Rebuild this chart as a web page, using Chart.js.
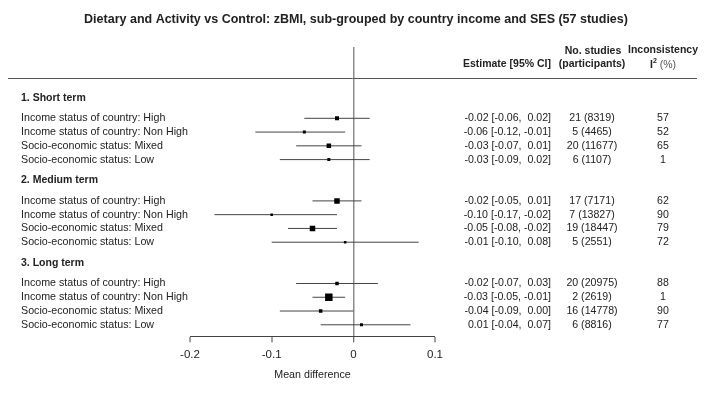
<!DOCTYPE html>
<html lang="en">
<head>
<meta charset="UTF-8">
<title>zBMI forest plot</title>
<script src="https://cdn.jsdelivr.net/npm/chart.js"></script>
<style>
  html, body { margin: 0; padding: 0; background: #fff; }
  #wrap { width: 712px; height: 399px; }
</style>
</head>
<body>
<div id="wrap"><canvas id="forest" width="712" height="399"></canvas></div>
<script>
// ---- data ----
const titleText = 'Dietary and Activity vs Control: zBMI, sub-grouped by country income and SES (57 studies)';
const groups = ['1. Short term', '2. Medium term', '3. Long term'];
const subgroups = [
  'Income status of country: High',
  'Income status of country: Non High',
  'Socio-economic status: Mixed',
  'Socio-economic status: Low'
];
// one entry per row, groups in order (4 rows each)
const estimate = [-0.02, -0.06, -0.03, -0.03, -0.02, -0.10, -0.05, -0.01, -0.02, -0.03, -0.04, 0.01];
const lower    = [-0.06, -0.12, -0.07, -0.09, -0.05, -0.17, -0.08, -0.10, -0.07, -0.05, -0.09, -0.04];
const upper    = [ 0.02, -0.01,  0.01,  0.02,  0.01, -0.02, -0.02,  0.08,  0.03, -0.01,  0.00,  0.07];
const studies      = [21, 5, 20, 6, 17, 7, 19, 5, 20, 2, 16, 6];
const participants = [8319, 4465, 11677, 1107, 7171, 13827, 18447, 2551, 20975, 2619, 14778, 8816];
const inconsistency = [57, 52, 65, 1, 62, 90, 79, 72, 88, 1, 90, 77];
const xTicks = [-0.2, -0.1, 0, 0.1];

// square side (px), drawn by weight
const boxSide = [4, 3, 4.5, 3, 5.5, 2.5, 5.5, 2.5, 3.5, 7.5, 3.5, 3];

const FONT = "'Liberation Sans', Arial, sans-serif";

// row layout: header, then the subgroup rows
const headerPos = [];
const rowPos = [];
let k = 0;
groups.forEach(() => {
  headerPos.push(k);
  subgroups.forEach((s, si) => rowPos.push(k + 1.5 + si));
  k += 1.5 + (subgroups.length - 1) + 1.5;
});

function fmt(v) {
  return (v < 0 ? '-' : ' ') + Math.abs(v).toFixed(2);
}

// CI segments, one dataset each
const ciSets = estimate.map((e, i) => ({
  data: [{ x: lower[i], y: rowPos[i] }, { x: upper[i], y: rowPos[i] }],
  showLine: true,
  borderColor: '#444',
  borderWidth: 1,
  pointRadius: 0,
  order: 1
}));

const pointSet = {
  data: estimate.map((e, i) => ({ x: e, y: rowPos[i] })),
  pointStyle: 'rect',
  pointRadius: ctx => boxSide[ctx.dataIndex] / Math.SQRT2,
  pointBackgroundColor: '#000',
  pointBorderWidth: 0,
  showLine: false,
  order: 0
};

// text columns, title and headers
const tablePlugin = {
  id: 'forestText',
  afterDraw(chart) {
    const c = chart.ctx;
    const y = chart.scales.y;
    c.save();
    c.fillStyle = '#222';
    c.textBaseline = 'middle';

    // title
    c.font = 'bold 12.5px ' + FONT;
    c.textAlign = 'center';
    c.fillText(titleText, 356, 20);

    // column headers
    c.font = 'bold 10.5px ' + FONT;
    c.textAlign = 'right';
    c.fillText('Estimate [95% CI]', 551, 64);
    c.textAlign = 'center';
    c.fillText('No. studies', 593, 51);
    c.fillText('(participants)', 592, 64);
    c.fillText('Inconsistency', 663, 50);
    // I^2 (%)
    c.font = 'bold 10.5px ' + FONT;
    const wI = c.measureText('I').width;
    c.font = 'bold 7px ' + FONT;
    const w2 = c.measureText('2').width;
    c.font = '10.5px ' + FONT;
    const wP = c.measureText(' (%)').width;
    const sx = 663 - (wI + w2 + wP) / 2;
    c.textAlign = 'left';
    c.font = 'bold 10.5px ' + FONT;
    c.fillText('I', sx, 65);
    c.font = 'bold 7px ' + FONT;
    c.fillText('2', sx + wI, 61);
    c.font = '10.5px ' + FONT;
    c.fillStyle = '#555';
    c.fillText(' (%)', sx + wI + w2, 65);
    c.fillStyle = '#222';

    // separator
    c.strokeStyle = '#555';
    c.lineWidth = 1;
    c.beginPath();
    c.moveTo(8, 78.5);
    c.lineTo(697, 78.5);
    c.stroke();

    // group headers
    c.font = 'bold 10.5px ' + FONT;
    c.textAlign = 'left';
    groups.forEach((g, gi) => c.fillText(g, 21, y.getPixelForValue(headerPos[gi])));

    // rows
    estimate.forEach((e, i) => {
      const py = y.getPixelForValue(rowPos[i]);
      c.font = '10.7px ' + FONT;
      c.textAlign = 'left';
      c.fillText(subgroups[i % subgroups.length], 21, py);
      c.font = '10.6px ' + FONT;
      c.textAlign = 'right';
      c.fillText(fmt(e) + ' [' + fmt(lower[i]).trim() + ', ' + fmt(upper[i]) + ']', 551, py);
      c.textAlign = 'center';
      c.fillText(studies[i] + ' (' + participants[i] + ')', 592, py);
      c.fillText(String(inconsistency[i]), 663, py);
    });
    c.restore();
  }
};

new Chart(document.getElementById('forest'), {
  type: 'scatter',
  data: { datasets: [pointSet, ...ciSets] },
  options: {
    responsive: false,
    animation: false,
    layout: { padding: { left: 190, right: 277, top: 47, bottom: 14 } },
    plugins: {
      legend: { display: false },
      tooltip: { enabled: false }
    },
    scales: {
      x: {
        type: 'linear',
        min: -0.2,
        max: 0.1,
        afterBuildTicks: axis => { axis.ticks = xTicks.map(v => ({ value: v })); },
        ticks: {
          callback: v => (Math.abs(v) < 1e-9 ? '0' : String(+v.toFixed(1))),
          font: { family: FONT, size: 11.5 },
          color: '#222',
          padding: 6,
          maxRotation: 0
        },
        grid: {
          drawOnChartArea: true,
          color: ctx => (ctx.tick && Math.abs(ctx.tick.value) < 1e-9 ? '#8c8c8c' : 'rgba(0,0,0,0)'),
          lineWidth: ctx => (ctx.tick && Math.abs(ctx.tick.value) < 1e-9 ? 1.5 : 0),
          tickColor: '#444',
          tickWidth: 1,
          tickLength: 6
        },
        border: { display: true, color: '#444', width: 1 },
        title: {
          display: true,
          text: 'Mean difference',
          font: { family: FONT, size: 10.7 },
          color: '#222',
          padding: { top: 0, bottom: 4 }
        }
      },
      y: {
        type: 'linear',
        display: false,
        reverse: true,
        min: -3.68,
        max: 17.34
      }
    }
  },
  plugins: [tablePlugin]
});
</script>
</body>
</html>
